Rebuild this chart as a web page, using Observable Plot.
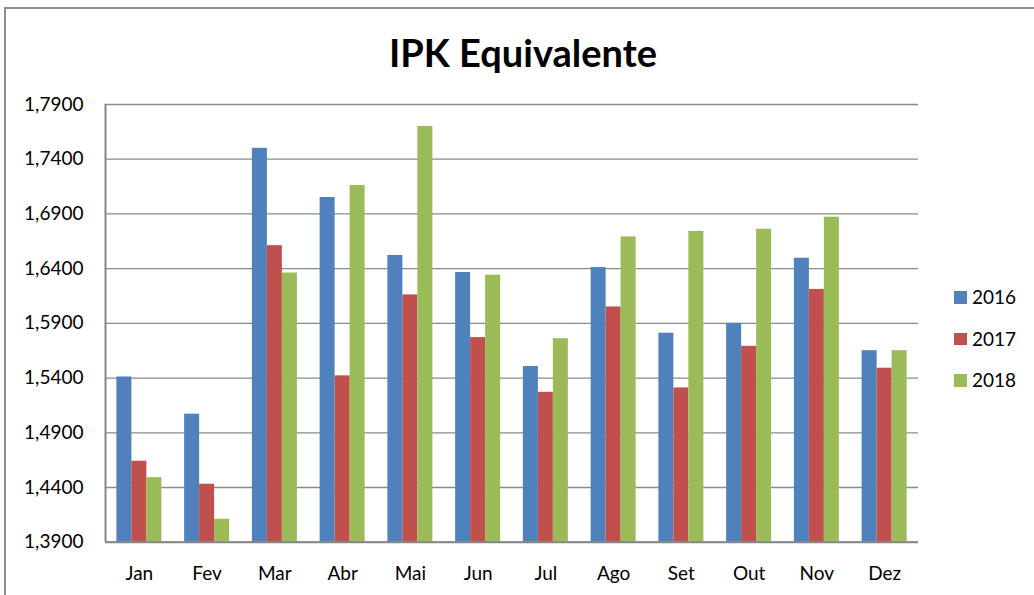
<!DOCTYPE html>
<html>
<head>
<meta charset="utf-8">
<script src="https://cdn.jsdelivr.net/npm/d3@7"></script>
<script src="https://cdn.jsdelivr.net/npm/@observablehq/plot@0.6"></script>
<style>
  html, body { margin: 0; padding: 0; background: #fff; }
  #wrap { position: relative; width: 1034px; height: 595px; overflow: hidden; font-family: Lato, "Open Sans", sans-serif; }
  #frame { position: absolute; left: 4px; top: 7px; width: 1040px; height: 600px; border-top: 2px solid #8c8c8c; border-left: 2px solid #8c8c8c; box-sizing: border-box; }
  #title { position: absolute; left: 0; width: 1046px; top: 27px; text-align: center; font-weight: bold; font-size: 38px; line-height: 50px; color: #000; }
  #chart { position: absolute; left: 0; top: 0; }
  #legend { position: absolute; left: 954px; top: 283px; }
  .item { position: relative; height: 41.7px; font-size: 19px; line-height: 28px; color: #000; }
  .sw { position: absolute; left: 0; top: 8px; width: 12.5px; height: 12.5px; }
  .lab { position: absolute; left: 18px; top: 0; }
</style>
</head>
<body>
<div id="wrap">
  <div id="frame"></div>
  <div id="title">IPK Equivalente</div>
  <div id="chart"></div>
  <div id="legend"></div>
</div>
<script>
const months = ["Jan","Fev","Mar","Abr","Mai","Jun","Jul","Ago","Set","Out","Nov","Dez"];
const years = ["2016","2017","2018"];
const values2016 = [1.541, 1.507, 1.750, 1.705, 1.652, 1.6365, 1.5505, 1.641, 1.581, 1.590, 1.6495, 1.565];
const values2017 = [1.464, 1.443, 1.661, 1.542, 1.616, 1.577, 1.527, 1.605, 1.531, 1.569, 1.621, 1.549];
const values2018 = [1.449, 1.411, 1.636, 1.716, 1.770, 1.634, 1.576, 1.669, 1.674, 1.676, 1.687, 1.565];
const yTicks = [1.39, 1.44, 1.49, 1.54, 1.59, 1.64, 1.69, 1.74, 1.79];
const colors = ["#4F81BD", "#C0504D", "#9BBB59"];

const series = [values2016, values2017, values2018];
const data = [];
years.forEach((y, i) => months.forEach((m, j) => data.push({year: y, month: m, value: series[i][j]})));

const W = 1034, H = 595;
const mL = 105, mR = 116, mT = 104, mB = 53.3;
const pIn = 0.336, pOut = 0.168;
const step = (W - mL - mR) / (months.length - pIn + 2 * pOut);
const barW = step * (1 - pIn) / years.length;
const yMin = yTicks[0];

const fmt = d => d.toFixed(4).replace(".", ",");

const marks = [
  Plot.ruleY(yTicks, {stroke: "#8a8a8a", strokeWidth: 1.3}),
  ...years.map((yr, i) => Plot.barY(data.filter(d => d.year === yr), {
    x: "month", y1: yMin, y2: "value", fill: colors[i],
    insetLeft: i * barW, insetRight: (years.length - 1 - i) * barW
  })),
  Plot.ruleY([yMin], {stroke: "#868686", strokeWidth: 2}),
  Plot.ruleX([months[0]], {y1: yMin, y2: yTicks[yTicks.length - 1], stroke: "#868686", strokeWidth: 2, dx: -step * (1 - pIn) / 2 - step * pOut})
];

const chart = Plot.plot({
  width: W, height: H,
  marginLeft: mL, marginRight: mR, marginTop: mT, marginBottom: mB,
  style: {fontFamily: "Lato, 'Open Sans', sans-serif", fontSize: "19px", color: "#000", background: "transparent", overflow: "visible"},
  x: {domain: months, paddingInner: pIn, paddingOuter: pOut, round: false, tickSize: 0, tickPadding: 24, label: null},
  y: {domain: [yTicks[0], yTicks[yTicks.length - 1]], ticks: yTicks, tickFormat: fmt, tickSize: 0, tickPadding: 22, label: null},
  marks
});
document.getElementById("chart").appendChild(chart);

const legend = document.getElementById("legend");
years.forEach((yr, i) => {
  const it = document.createElement("div");
  it.className = "item";
  it.innerHTML = `<div class="sw" style="background:${colors[i]}"></div><div class="lab">${yr}</div>`;
  legend.appendChild(it);
});
</script>
</body>
</html>
